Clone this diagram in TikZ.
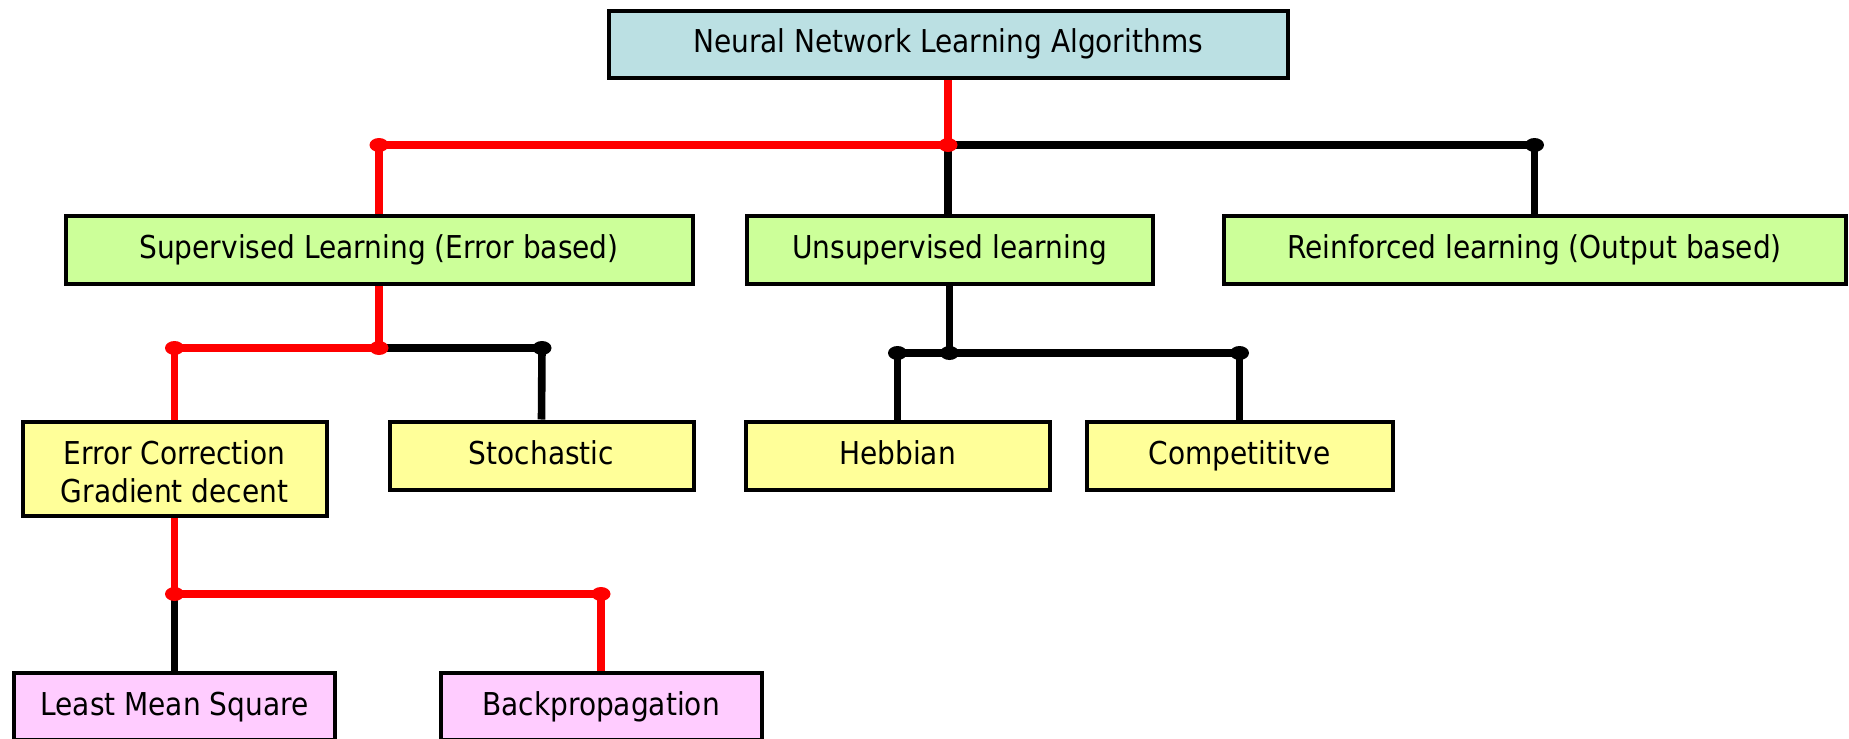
\documentclass[tikz,border=0pt]{standalone}
\usepackage{fontspec}
\setmainfont{DejaVu Sans}[FakeStretch=0.89]
\usetikzlibrary{backgrounds}

\definecolor{rootfill}{HTML}{BBE0E3}
\definecolor{branchfill}{HTML}{CCFF99}
\definecolor{methodfill}{HTML}{FFFF99}
\definecolor{rulefill}{HTML}{FFCCFF}
\definecolor{hotwire}{HTML}{FF0000}

\begin{document}
\begin{tikzpicture}[x=0.5pt,y=-0.5pt,
  box/.style={draw=black, line width=2pt, inner sep=0pt, align=center,
    font=\fontsize{15.75}{19}\selectfont},
  onebox/.style={box, text height=11.5pt, text depth=3pt},
  wire/.style={line width=3.8pt},
  hot/.style={wire, draw=hotwire},
  cold/.style={wire, draw=black},
  hotdot/.style={fill=hotwire},
  colddot/.style={fill=black},
]
\path[use as bounding box, clip] (0,0) rectangle (1849,739);

% boxes
\node[onebox, fill=rootfill, minimum width=339.5pt, minimum height=33.5pt]
  (root) at (948,44) {Neural Network Learning Algorithms};
\node[onebox, fill=branchfill, minimum width=313.5pt, minimum height=34pt]
  (sup) at (379,249.5) {Supervised Learning (Error based)};
\node[onebox, fill=branchfill, minimum width=203pt, minimum height=34pt]
  (unsup) at (949.5,249.5) {Unsupervised learning};
\node[onebox, fill=branchfill, minimum width=311pt, minimum height=34pt]
  (reinf) at (1534.5,249.5) {Reinforced learning (Output based)};
\node[box, fill=methodfill, minimum width=152pt, minimum height=47pt]
  (errc) at (174.5,468.5) {\rule{0pt}{15.5pt}Error Correction\\Gradient decent};
\node[onebox, fill=methodfill, minimum width=152pt, minimum height=34pt]
  (stoch) at (541.5,455.5) {Stochastic};
\node[onebox, fill=methodfill, minimum width=152pt, minimum height=34pt]
  (hebb) at (897.5,455.5) {Hebbian};
\node[onebox, fill=methodfill, minimum width=153pt, minimum height=34pt]
  (comp) at (1239.5,455.5) {Competititve};
\node[onebox, fill=rulefill, minimum width=160.5pt, minimum height=33.5pt]
  (lms) at (174.5,706.5) {Least Mean Square};
\node[onebox, fill=rulefill, minimum width=160.5pt, minimum height=33.5pt]
  (bp) at (601,706.5) {Backpropagation};

% bus junctions
\coordinate (rootbus) at (948,145);
\coordinate (supend) at (379,145);
\coordinate (reinfend) at (1534.5,145);
\coordinate (supbus) at (379,348);
\coordinate (ecend) at (174.5,348);
\coordinate (stend) at (542,348);
\coordinate (unbus) at (949.5,353);
\coordinate (hbend) at (897.5,353);
\coordinate (cpend) at (1239.5,353);
\coordinate (ecbus) at (174.5,594);
\coordinate (bpend) at (601,594);

\begin{scope}[on background layer]
  % first level
  \draw[hot] (root.south) -- (rootbus);
  \draw[hot] (rootbus) -- (supend) -- (sup.north);
  \draw[cold] (rootbus) -- (rootbus |- unsup.north);
  \draw[cold] (rootbus) -- (reinfend) -- (reinf.north);
  % supervised branch
  \draw[hot] (sup.south) -- (supbus);
  \draw[hot] (supbus) -- (ecend) -- (errc.north);
  \draw[cold] (supbus) -- (stend) -- (stoch.north);
  % unsupervised branch
  \draw[cold] (unsup.south) -- (unbus);
  \draw[cold] (hbend) -- (cpend);
  \draw[cold] (hbend) -- (hebb.north);
  \draw[cold] (cpend) -- (comp.north);
  % error correction branch
  \draw[hot] (errc.south) -- (ecbus) -- (bpend) -- (bp.north);
  \draw[cold] (ecbus) -- (lms.north);
  % junction dots
  \foreach \p in {rootbus,supend,supbus,ecend,ecbus,bpend}
    \path[hotdot] (\p) ellipse [x radius=4.75pt, y radius=3.5pt];
  \foreach \p in {reinfend,stend,unbus,hbend,cpend}
    \path[colddot] (\p) ellipse [x radius=4.75pt, y radius=3.5pt];
\end{scope}
\end{tikzpicture}
\end{document}
